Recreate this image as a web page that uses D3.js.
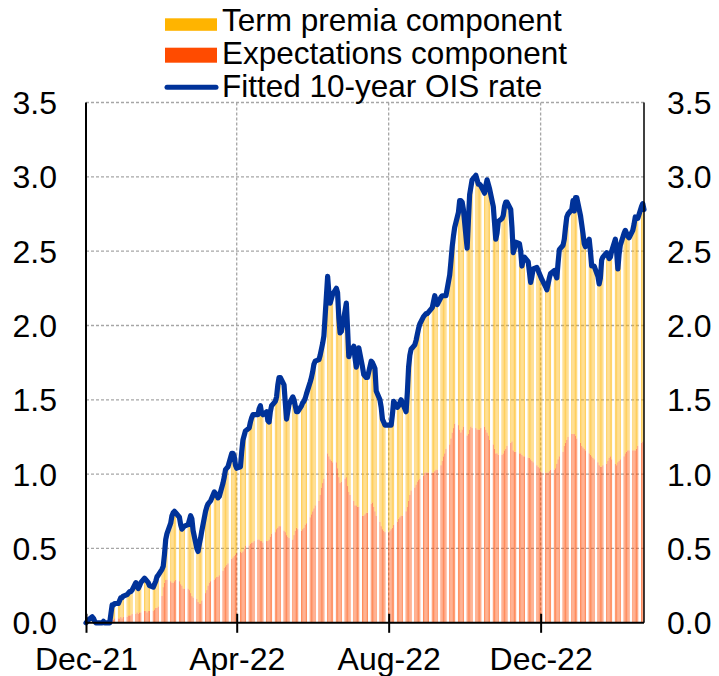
<!DOCTYPE html>
<html>
<head>
<meta charset="utf-8">
<script src="https://cdn.jsdelivr.net/npm/d3@7"></script>
<style>
  body { margin: 0; background: #fff; }
  svg text { font-family: "Liberation Sans", Arial, sans-serif; fill: #000; }
</style>
</head>
<body>
<svg id="chart" width="719" height="676"></svg>
<script>
// business days, 1 Dec 2021 - 22 Feb 2023
const startDate = new Date(2021, 11, 1);
const endDate = new Date(2023, 1, 22);

const yTicks = [0, 0.5, 1, 1.5, 2, 2.5, 3, 3.5];
const xTicks = [new Date(2021, 11, 1), new Date(2022, 3, 1), new Date(2022, 7, 1), new Date(2022, 11, 1)];
const seriesNames = ["Term premia component", "Expectations component", "Fitted 10-year OIS rate"];

// fitted 10-year OIS rate, one row per week (Mon..Fri)
const fitted = [
  0.00, 0.01, 0.02,
  0.04, 0.03, 0.01, 0.00, 0.00,
  0.00, 0.00, 0.01, 0.00, 0.00,
  0.00, 0.06, 0.12, 0.12, 0.13,
  0.13, 0.15, 0.17, 0.17, 0.18,
  0.19, 0.20, 0.21, 0.21, 0.22,
  0.27, 0.25, 0.23, 0.25, 0.27,
  0.30, 0.29, 0.28, 0.27, 0.25,
  0.24, 0.26, 0.28, 0.31, 0.32,
  0.36, 0.38, 0.46, 0.56, 0.60,
  0.67, 0.72, 0.74, 0.75, 0.74,
  0.71, 0.66, 0.63, 0.64, 0.65,
  0.66, 0.69, 0.72, 0.70, 0.62,
  0.50, 0.48, 0.53, 0.57, 0.62,
  0.75, 0.78, 0.80, 0.81, 0.82,
  0.88, 0.87, 0.86, 0.84, 0.85,
  0.94, 0.98, 1.03, 1.04, 1.05,
  1.14, 1.14, 1.12, 1.06, 1.04,
  1.05, 1.15, 1.23, 1.26, 1.29,
  1.31, 1.35, 1.38, 1.40, 1.40,
  1.40, 1.44, 1.46, 1.41, 1.40,
  1.42, 1.36, 1.35, 1.42, 1.46,
  1.49, 1.52, 1.60, 1.65, 1.65,
  1.60, 1.48, 1.37, 1.42, 1.47,
  1.52, 1.50, 1.46, 1.42, 1.42,
  1.46, 1.48, 1.49, 1.51, 1.54,
  1.62, 1.65, 1.69, 1.74, 1.76,
  1.77, 1.80, 1.84, 1.88, 1.93,
  2.33, 2.22, 2.15, 2.18, 2.21,
  2.25, 2.22, 2.05, 1.95, 1.96,
  2.10, 2.15, 1.98, 1.79, 1.82,
  1.86, 1.78, 1.72, 1.78, 1.85,
  1.72, 1.67, 1.66, 1.65, 1.65,
  1.76, 1.75, 1.73, 1.71, 1.56,
  1.50, 1.45, 1.37, 1.35, 1.33,
  1.33, 1.33, 1.33, 1.40, 1.49,
  1.45, 1.46, 1.48, 1.50, 1.48,
  1.42, 1.55, 1.72, 1.80, 1.84,
  1.87, 1.90, 1.94, 1.98, 2.01,
  2.06, 2.07, 2.08, 2.08, 2.09,
  2.12, 2.16, 2.20, 2.17, 2.14,
  2.19, 2.20, 2.20, 2.20, 2.20,
  2.34, 2.43, 2.53, 2.60, 2.66,
  2.76, 2.84, 2.84, 2.83, 2.78,
  2.52, 2.70, 2.88, 2.93, 2.98,
  3.01, 2.98, 2.95, 2.95, 2.94,
  2.89, 2.94, 2.98, 2.95, 2.92,
  2.80, 2.69, 2.58, 2.62, 2.70,
  2.72, 2.74, 2.80, 2.83, 2.83,
  2.78, 2.66, 2.49, 2.52, 2.56,
  2.55, 2.50, 2.40, 2.44, 2.46,
  2.43, 2.36, 2.29, 2.33, 2.38,
  2.39, 2.37, 2.35, 2.33, 2.31,
  2.26, 2.24, 2.28, 2.32, 2.35,
  2.37, 2.34, 2.32, 2.42, 2.51,
  2.54, 2.58, 2.66, 2.73, 2.75,
  2.78, 2.84, 2.77, 2.86, 2.86,
  2.74, 2.68, 2.62, 2.55, 2.53,
  2.58, 2.50, 2.40, 2.40, 2.40,
  2.33, 2.28, 2.32, 2.44, 2.46,
  2.49, 2.47, 2.45, 2.46, 2.50,
  2.58, 2.50, 2.38, 2.48, 2.54,
  2.62, 2.64, 2.62, 2.60, 2.59,
  2.64, 2.68, 2.73, 2.72, 2.72,
  2.80, 2.82, 2.78
];

// expectations component, same days
const expectations = [
  0.00, 0.00, 0.00,
  0.00, 0.00, 0.00, 0.00, 0.00,
  0.00, 0.00, 0.00, 0.00, 0.00,
  0.00, 0.01, 0.02, 0.02, 0.03,
  0.03, 0.03, 0.04, 0.03, 0.04,
  0.04, 0.05, 0.05, 0.05, 0.06,
  0.06, 0.07, 0.06, 0.07, 0.07,
  0.08, 0.08, 0.07, 0.08, 0.08,
  0.08, 0.09, 0.10, 0.10, 0.11,
  0.18, 0.24, 0.27, 0.29, 0.29,
  0.28, 0.27, 0.27, 0.28, 0.29,
  0.28, 0.26, 0.25, 0.23, 0.23,
  0.23, 0.22, 0.20, 0.18, 0.17,
  0.16, 0.14, 0.13, 0.13, 0.15,
  0.20, 0.22, 0.25, 0.27, 0.28,
  0.29, 0.30, 0.31, 0.31, 0.32,
  0.35, 0.37, 0.38, 0.39, 0.40,
  0.43, 0.44, 0.45, 0.46, 0.47,
  0.48, 0.47, 0.48, 0.50, 0.52,
  0.52, 0.53, 0.54, 0.54, 0.55,
  0.56, 0.56, 0.55, 0.55, 0.54,
  0.55, 0.55, 0.56, 0.58, 0.60,
  0.61, 0.63, 0.64, 0.65, 0.65,
  0.62, 0.61, 0.59, 0.58, 0.57,
  0.56, 0.59, 0.62, 0.64, 0.63,
  0.62, 0.63, 0.64, 0.66, 0.67,
  0.71, 0.73, 0.75, 0.77, 0.79,
  0.82, 0.86, 0.91, 0.94, 0.97,
  1.14, 1.12, 1.10, 1.09, 1.08,
  1.08, 1.04, 0.98, 0.94, 0.95,
  0.97, 0.98, 0.92, 0.88, 0.86,
  0.82, 0.79, 0.79, 0.78, 0.78,
  0.72, 0.72, 0.73, 0.74, 0.74,
  0.80, 0.81, 0.78, 0.75, 0.72,
  0.68, 0.65, 0.63, 0.62, 0.61,
  0.61, 0.62, 0.63, 0.64, 0.66,
  0.68, 0.70, 0.71, 0.72, 0.72,
  0.75, 0.78, 0.82, 0.86, 0.89,
  0.91, 0.93, 0.95, 0.96, 0.97,
  0.99, 1.01, 1.01, 1.01, 1.01,
  1.01, 1.01, 1.02, 1.03, 1.03,
  1.06, 1.09, 1.12, 1.14, 1.17,
  1.20, 1.24, 1.28, 1.31, 1.34,
  1.33, 1.30, 1.28, 1.30, 1.32,
  1.26, 1.27, 1.30, 1.32, 1.31,
  1.31, 1.30, 1.30, 1.30, 1.31,
  1.32, 1.30, 1.28, 1.26, 1.23,
  1.20, 1.17, 1.14, 1.14, 1.13,
  1.13, 1.14, 1.16, 1.17, 1.19,
  1.21, 1.22, 1.16, 1.15, 1.15,
  1.14, 1.14, 1.13, 1.12, 1.12,
  1.11, 1.11, 1.10, 1.09, 1.08,
  1.06, 1.05, 1.04, 1.02, 1.01,
  1.01, 1.01, 1.01, 1.02, 1.03,
  1.03, 1.04, 1.07, 1.10, 1.12,
  1.15, 1.19, 1.21, 1.23, 1.25,
  1.27, 1.27, 1.27, 1.26, 1.24,
  1.21, 1.19, 1.18, 1.17, 1.16,
  1.14, 1.13, 1.12, 1.11, 1.10,
  1.08, 1.06, 1.05, 1.05, 1.06,
  1.07, 1.09, 1.11, 1.12, 1.10,
  1.07, 1.06, 1.08, 1.09, 1.10,
  1.12, 1.14, 1.15, 1.16, 1.16,
  1.16, 1.16, 1.16, 1.17, 1.19,
  1.21, 1.22, 1.21
];

const colors = { term: "#FFB400", expect: "#FF4B00", line: "#003299" };

const days = d3.timeDay
  .range(startDate, d3.timeDay.offset(endDate, 1))
  .filter((d) => d.getDay() !== 0 && d.getDay() !== 6);

const data = days.map((d, i) => ({
  date: d,
  fitted: fitted[i],
  expect: expectations[i],
  term: fitted[i] - expectations[i]
}));

const svg = d3.select("#chart");
const plot = { left: 86, right: 644, top: 102.5, bottom: 622.8 };

const x = d3.scaleTime().domain([startDate, endDate]).range([plot.left, plot.right]);
const y = d3.scaleLinear().domain([0, 3.5]).range([plot.bottom, plot.top]);

svg.append("clipPath").attr("id", "clip")
  .append("rect")
  .attr("x", plot.left).attr("y", plot.top)
  .attr("width", plot.right - plot.left).attr("height", plot.bottom - plot.top);

// gridlines
const grid = svg.append("g").attr("stroke", "#a6a6a6").attr("stroke-width", 1.3).attr("stroke-dasharray", "3,2");
grid.selectAll(".hgrid").data(yTicks.filter((t) => t > 0)).join("line")
  .attr("x1", plot.left).attr("x2", plot.right)
  .attr("y1", (d) => y(d)).attr("y2", (d) => y(d));
grid.selectAll(".vgrid").data(xTicks.slice(1)).join("line")
  .attr("x1", (d) => x(d)).attr("x2", (d) => x(d))
  .attr("y1", plot.top).attr("y2", plot.bottom);

// stacked daily bars
const stack = d3.stack().keys(["expect", "term"])(data);
const dayW = x(d3.timeDay.offset(startDate, 1)) - x(startDate);
const barW = dayW * 0.75;

const bars = svg.append("g").attr("clip-path", "url(#clip)");
bars.selectAll("g").data(stack).join("g")
  .attr("fill", (s) => (s.key === "expect" ? colors.expect : colors.term))
  .attr("fill-opacity", 0.68)
  .selectAll("rect").data((s) => s).join("rect")
  .attr("x", (d) => x(d.data.date) - barW / 2)
  .attr("width", barW)
  .attr("y", (d) => y(d[1]))
  .attr("height", (d) => Math.max(0, y(d[0]) - y(d[1])));

// fitted OIS line
const line = d3.line().x((d) => x(d.date)).y((d) => y(d.fitted));
svg.append("path").datum(data)
  .attr("fill", "none")
  .attr("stroke", colors.line)
  .attr("stroke-width", 5.2)
  .attr("stroke-linejoin", "round")
  .attr("stroke-linecap", "round")
  .attr("d", line);

// frame
svg.append("line").attr("x1", plot.left).attr("x2", plot.left)
  .attr("y1", plot.top).attr("y2", plot.bottom + 1)
  .attr("stroke", "#000").attr("stroke-width", 2);
svg.append("line").attr("x1", plot.right).attr("x2", plot.right)
  .attr("y1", plot.top).attr("y2", plot.bottom)
  .attr("stroke", "#000").attr("stroke-width", 1.5);

// x axis
const xAxis = svg.append("g")
  .attr("transform", `translate(0,${plot.bottom})`)
  .call(d3.axisBottom(x).tickValues(xTicks).tickFormat(d3.timeFormat("%b-%y")).tickSize(10).tickPadding(14));
xAxis.select(".domain").attr("stroke", "#000").attr("stroke-width", 2)
  .attr("d", `M${plot.left},0H${plot.right}`);
xAxis.selectAll(".tick line").attr("stroke", "#000").attr("stroke-width", 2).attr("y1", -9);
xAxis.selectAll(".tick text").attr("font-size", 32).attr("font-family", "Liberation Sans, Arial, sans-serif");

// y labels, both sides
const fmt = d3.format(".1f");
svg.append("g").selectAll("text").data(yTicks).join("text")
  .attr("x", 57).attr("y", (d) => y(d)).attr("dy", "0.36em")
  .attr("text-anchor", "end").attr("font-size", 32)
  .text(fmt);
svg.append("g").selectAll("text").data(yTicks).join("text")
  .attr("x", 667).attr("y", (d) => y(d)).attr("dy", "0.36em")
  .attr("text-anchor", "start").attr("font-size", 32)
  .text(fmt);

// legend
const legend = svg.append("g").attr("transform", "translate(165,0)");
const rowY = [31, 63.8, 96.6];
legend.append("rect").attr("x", 0).attr("y", 18.3).attr("width", 52).attr("height", 12.5).attr("fill", colors.term);
legend.append("rect").attr("x", 0).attr("y", 47.7).attr("width", 52).attr("height", 15).attr("fill", colors.expect);
legend.append("line").attr("x1", 2).attr("x2", 51).attr("y1", 87.3).attr("y2", 87.3)
  .attr("stroke", colors.line).attr("stroke-width", 5).attr("stroke-linecap", "round");
legend.selectAll("text").data(seriesNames).join("text")
  .attr("x", 57).attr("y", (d, i) => rowY[i])
  .attr("font-size", 31.5)
  .text((d) => d);
</script>
</body>
</html>
